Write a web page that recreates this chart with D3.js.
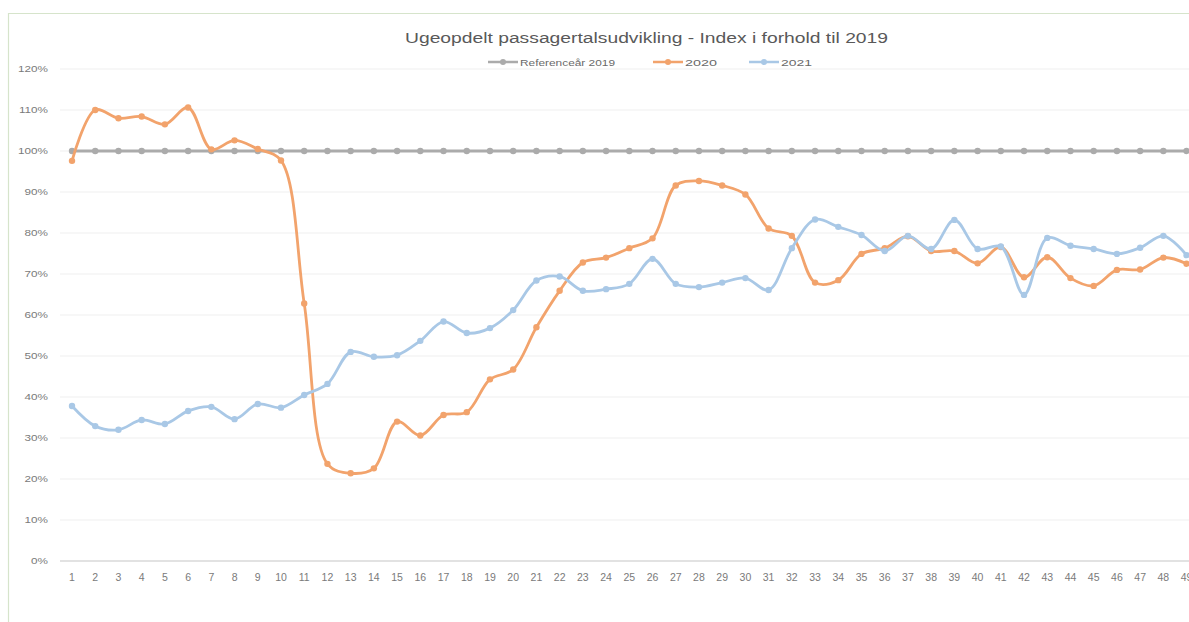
<!DOCTYPE html>
<html><head><meta charset="utf-8">
<script src="https://cdn.jsdelivr.net/npm/d3@7"></script>
<style>html,body{margin:0;padding:0;background:#fff;overflow:hidden}</style>
</head><body>
<svg id="c" width="1189" height="622"></svg>
<script>
const title = "Ugeopdelt passagertalsudvikling - Index i forhold til 2019";
const seriesNames = ["Referenceår 2019", "2020", "2021"];
const weeks = [1,2,3,4,5,6,7,8,9,10,11,12,13,14,15,16,17,18,19,20,21,22,23,24,25,26,27,28,29,30,31,32,33,34,35,36,37,38,39,40,41,42,43,44,45,46,47,48,49];
const ref2019 = [100,100,100,100,100,100,100,100,100,100,100,100,100,100,100,100,100,100,100,100,100,100,100,100,100,100,100,100,100,100,100,100,100,100,100,100,100,100,100,100,100,100,100,100,100,100,100,100,100];
const y2020 = [97.6,110,108,108.4,106.5,110.6,100.4,102.6,100.5,97.7,62.8,23.7,21.4,22.6,34,30.6,35.6,36.3,44.3,46.7,57,65.9,72.8,74,76.3,78.7,91.6,92.7,91.6,89.4,81.1,79.3,67.9,68.5,74.9,76.3,79.2,75.6,75.6,72.6,76.6,69.2,74.1,69,67.1,71,71.1,74,72.5];
const y2021 = [37.8,32.9,32,34.4,33.4,36.6,37.6,34.6,38.3,37.4,40.5,43.2,51,49.8,50.2,53.7,58.4,55.6,56.8,61.2,68.4,69.4,65.9,66.3,67.6,73.7,67.6,66.8,67.9,69,66.1,76.3,83.3,81.5,79.5,75.6,79.3,76.1,83.2,76.1,76.7,64.9,78.8,76.9,76.1,74.9,76.4,79.3,74.6];
const yTicks = [0,10,20,30,40,50,60,70,80,90,100,110,120];
const colors = ["#ababab", "#f2a36c", "#a9c8e6"];

const svg = d3.select("#c");
const font = "'Liberation Sans', Arial, sans-serif";

// frame
svg.append("line").attr("x1",8.5).attr("x2",8.5).attr("y1",13).attr("y2",622).attr("stroke","#d6e4cb").attr("stroke-width",1.2);
svg.append("line").attr("x1",8).attr("x2",1189).attr("y1",13.5).attr("y2",13.5).attr("stroke","#d6e4cb").attr("stroke-width",1.2);

const x = d3.scaleBand().domain(weeks).range([60.4, 60.4 + weeks.length*23.22]).padding(0);
const xc = d => x(d) + x.bandwidth()/2;
const y = d3.scaleLinear().domain([0,120]).range([561, 69]);

// gridlines
svg.append("g").selectAll("line").data(yTicks.filter(t=>t>0)).join("line")
  .attr("x1",60).attr("x2",1189).attr("y1",d=>y(d)).attr("y2",d=>y(d))
  .attr("stroke","#efefef").attr("stroke-width",1);

// y axis labels (slightly stretched horizontally, like the reference)
const ya = svg.append("g").attr("transform","translate(48,0)").call(d3.axisLeft(y).tickValues(yTicks).tickFormat(d=>d+"%").tickSize(0).tickPadding(0));
ya.select(".domain").remove();
ya.selectAll(".tick text").attr("font-family",font).attr("font-size",9).attr("fill","#7a7a7a")
  .attr("x",0).attr("transform","scale(1.3,1)").attr("text-anchor","end");

// x axis
const xa = svg.append("g").attr("transform","translate(0,561)").call(d3.axisBottom(x).tickSize(0).tickPadding(13));
xa.select(".domain").attr("stroke","#d9d9d9").attr("stroke-width",1.5).attr("d","M60,0H1189");
xa.selectAll("text").attr("font-family",font).attr("font-size",10.5).attr("fill","#7a7a7a");

// lines
const data = [ref2019, y2020, y2021];
const line = d3.line().x((d,i)=>xc(weeks[i])).y(d=>y(d)).curve(d3.curveCatmullRom.alpha(0.5));
data.forEach((s,k)=>{
  const g = svg.append("g");
  g.append("path").datum(s).attr("d",line).attr("fill","none").attr("stroke",colors[k]).attr("stroke-width",2.8);
  g.selectAll("circle").data(s).join("circle").attr("cx",(d,i)=>xc(weeks[i])).attr("cy",d=>y(d)).attr("r",3.2).attr("fill",colors[k]);
});

// title
svg.append("text").attr("x",646.5).attr("y",43).attr("text-anchor","middle").attr("font-family",font).attr("font-size",15.5)
  .attr("textLength",483).attr("lengthAdjust","spacingAndGlyphs").attr("fill","#595959").text(title);

// legend
const legX = [488, 653, 749];
const legW = [95, 32, 31];
seriesNames.forEach((n,k)=>{
  const g = svg.append("g").attr("transform",`translate(${legX[k]},62)`);
  g.append("line").attr("x1",0).attr("x2",30).attr("stroke",colors[k]).attr("stroke-width",2.5);
  g.append("circle").attr("cx",15).attr("r",3).attr("fill",colors[k]);
  g.append("text").attr("x",32).attr("y",3.5).attr("font-family",font).attr("font-size",9.5)
    .attr("textLength",legW[k]).attr("lengthAdjust","spacingAndGlyphs").attr("fill","#6a6a6a").text(n);
});
</script>
</body></html>
